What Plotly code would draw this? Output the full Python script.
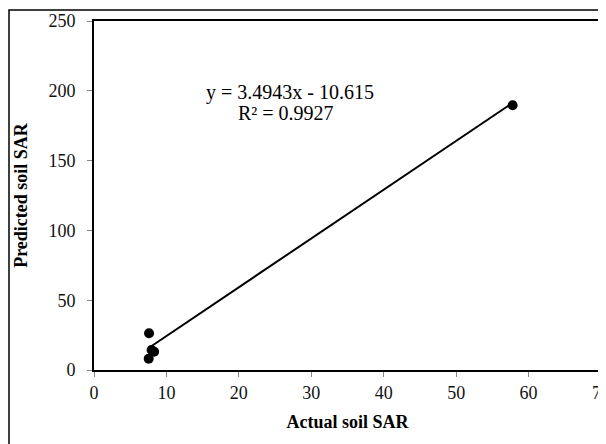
import plotly.graph_objects as go
import numpy as np

actual_sar = [7.6, 7.55, 8.3, 7.95, 57.8]
predicted_sar = [26.3, 8.0, 13.1, 14.3, 189.6]
slope = 3.4943
intercept = -10.615
eq_line = "y = 3.4943x - 10.615"
r2_line = "R² = 0.9927"
x_ticks = [0, 10, 20, 30, 40, 50, 60, 70]
y_ticks = [0, 50, 100, 150, 200, 250]

font_family = "Liberation Serif, Times New Roman, serif"

xs = np.array([min(actual_sar), max(actual_sar)])
ys = slope * xs + intercept

fig = go.Figure()
fig.add_trace(go.Scatter(x=list(xs), y=list(ys), mode="lines",
                         line=dict(color="black", width=2), showlegend=False))
fig.add_trace(go.Scatter(x=actual_sar, y=predicted_sar, mode="markers",
                         marker=dict(color="black", size=10), showlegend=False))

fig.add_annotation(x=27.06, y=199.0, xref="x", yref="y", text=eq_line, showarrow=False,
                   font=dict(family=font_family, size=20, color="black"))
fig.add_annotation(x=26.44, y=184.0, xref="x", yref="y", text=r2_line, showarrow=False,
                   font=dict(family=font_family, size=20, color="black"))

axis_common = dict(showline=True, linecolor="black", linewidth=2, mirror=True,
                   ticks="outside", ticklen=5, tickcolor="#888", showgrid=False,
                   zeroline=False, automargin=False,
                   tickfont=dict(family=font_family, size=18, color="#111"))

fig.update_xaxes(range=[0, 70], tickvals=x_ticks, ticklabeloverflow="allow",
                 title=dict(text="<b>Actual soil SAR</b>", font=dict(family=font_family, size=18, color="black"), standoff=14),
                 **axis_common)
fig.update_yaxes(range=[0, 250], tickvals=y_ticks, ticklabelstandoff=8,
                 title=dict(text="<b>Predicted soil SAR</b>", font=dict(family=font_family, size=18, color="black"), standoff=16),
                 **axis_common)

# figure is offset 8px by the page body margin
L, T, PW, PH = 86, 13, 507, 349
fig.add_shape(type="rect", xref="paper", yref="paper",
              x0=(1 - L) / PW, x1=(610 - L) / PW,
              y0=(T + PH - 445) / PH, y1=(T + PH - 2) / PH,
              line=dict(color="black", width=1.5), fillcolor="rgba(0,0,0,0)", layer="below")

fig.update_layout(width=598, height=436, margin=dict(l=L, r=598 - L - PW, t=T, b=436 - T - PH),
                  plot_bgcolor="white", paper_bgcolor="white",
                  font=dict(family=font_family, color="black"))

fig.write_html("out.html")
